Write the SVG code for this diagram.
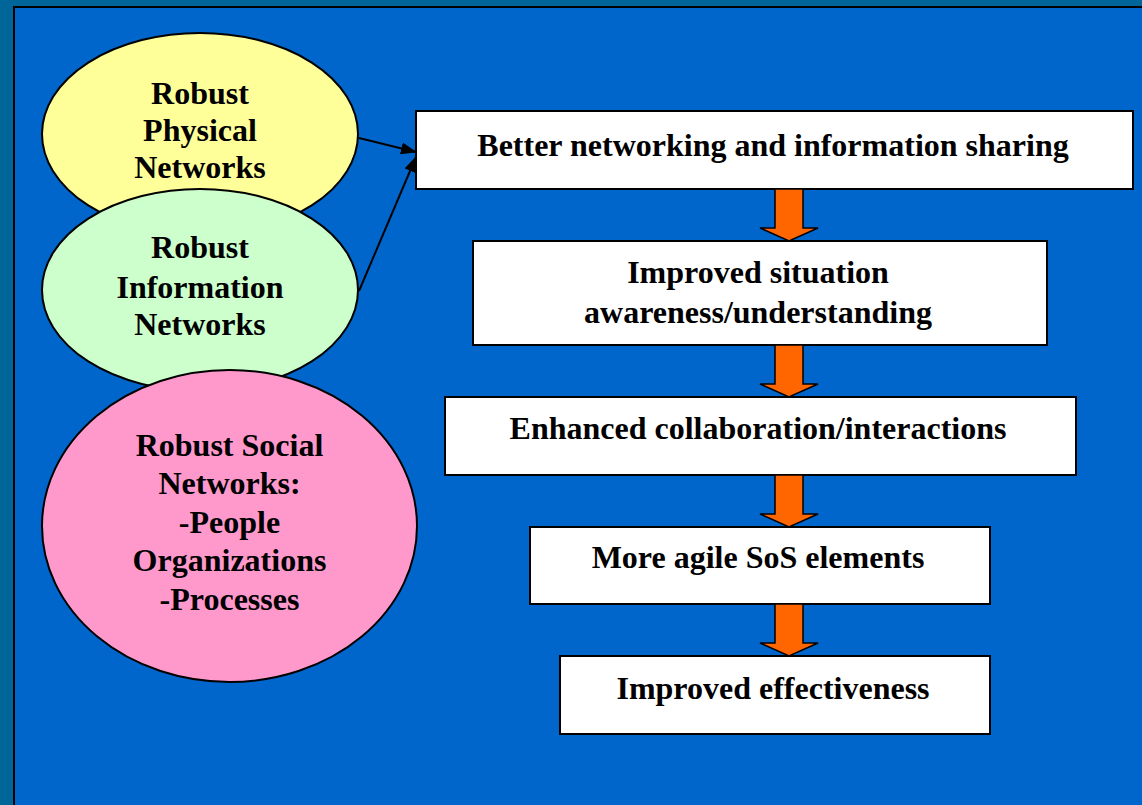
<svg xmlns="http://www.w3.org/2000/svg" width="1142" height="805" viewBox="0 0 1142 805">
<style>
.t{font-family:"Liberation Serif","Times New Roman",serif;font-weight:bold;font-size:32px;fill:#000;text-anchor:middle}
.ell{stroke:#000;stroke-width:2}
.box{fill:#fff;stroke:#000;stroke-width:2}
.oa{fill:#FF6600;stroke:#000;stroke-width:1.5;stroke-linejoin:miter}
.ln{stroke:#000;stroke-width:2;fill:none}
</style>
<defs>
<marker id="ahb" markerWidth="16" markerHeight="12" refX="15" refY="6" orient="auto" markerUnits="userSpaceOnUse" viewBox="0 0 16 12">
<path d="M0,0 L16,6 L0,12 Z" fill="#000"/>
</marker>
</defs>
<rect x="0" y="0" width="1142" height="805" fill="#006699"/>
<rect x="14" y="7" width="1140" height="810" fill="#0066CC" stroke="#000" stroke-width="2"/>

<g id="physical">
<ellipse class="ell" cx="200" cy="134" rx="158" ry="101" fill="#FFFF99"/>
<text class="t" x="200" y="104">Robust</text>
<text class="t" x="200" y="141">Physical</text>
<text class="t" x="200" y="178">Networks</text>
</g>
<g id="information">
<ellipse class="ell" cx="200" cy="290" rx="158" ry="101" fill="#CCFFCC"/>
<text class="t" x="200" y="258">Robust</text>
<text class="t" x="200" y="298">Information</text>
<text class="t" x="200" y="335">Networks</text>
</g>
<g id="social">
<ellipse class="ell" cx="229.5" cy="526" rx="187.5" ry="156" fill="#FF99CC"/>
<text class="t" x="229.5" y="456">Robust Social</text>
<text class="t" x="229.5" y="494">Networks:</text>
<text class="t" x="229.5" y="533">-People</text>
<text class="t" x="229.5" y="571">Organizations</text>
<text class="t" x="229.5" y="610">-Processes</text>
</g>

<g id="b1">
<rect class="box" x="416" y="111" width="717" height="78"/>
<text class="t" x="773" y="156">Better networking and information sharing</text>
</g>
<g id="b2">
<rect class="box" x="473" y="241" width="574" height="104"/>
<text class="t" x="758" y="283">Improved situation</text>
<text class="t" x="758" y="323">awareness/understanding</text>
</g>
<g id="b3">
<rect class="box" x="445" y="397" width="631" height="78"/>
<text class="t" x="758" y="439">Enhanced collaboration/interactions</text>
</g>
<g id="b4">
<rect class="box" x="530" y="527" width="460" height="77"/>
<text class="t" x="758" y="568">More agile SoS elements</text>
</g>
<g id="b5">
<rect class="box" x="560" y="656" width="430" height="78"/>
<text class="t" x="773" y="699">Improved effectiveness</text>
</g>

<g id="connectors">
<line class="ln" x1="359" y1="138" x2="416" y2="152" marker-end="url(#ahb)"/>
<line class="ln" x1="359" y1="291" x2="416" y2="157" marker-end="url(#ahb)"/>
<path class="oa" d="M775,189 L803,189 L803,228 L818,228 L789,241 L760,228 L775,228 Z"/>
<path class="oa" d="M775,345 L803,345 L803,384 L818,384 L789,397 L760,384 L775,384 Z"/>
<path class="oa" d="M775,475 L803,475 L803,514 L818,514 L789,527 L760,514 L775,514 Z"/>
<path class="oa" d="M775,604 L803,604 L803,643 L818,643 L789,656 L760,643 L775,643 Z"/>
</g>
</svg>
